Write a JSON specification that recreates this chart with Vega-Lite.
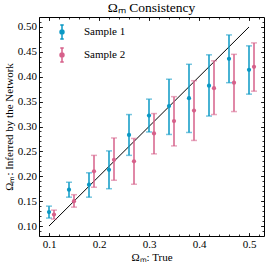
{
  "$schema": "https://vega.github.io/schema/vega-lite/v6.json",
  "width": 225,
  "height": 219,
  "padding": {"left": 3, "top": 1, "right": 3, "bottom": 3},
  "title": {"text": "Ωₘ Consistency", "font": "'Liberation Serif', serif", "fontSize": 13.5, "fontWeight": "normal", "color": "black", "offset": 2},
  "config": {
    "view": {"stroke": "black", "strokeWidth": 1},
    "font": "'Liberation Serif', serif",
    "axis": {"domain": false, "grid": false, "tickColor": "black", "labelColor": "black", "titleColor": "black", "labelFont": "'Liberation Serif', serif", "titleFont": "'Liberation Serif', serif", "labelFontSize": 11, "titleFontSize": 11, "titleFontWeight": "normal", "tickWidth": 0.8}
  },
  "datasets": {
    "diag": [{"x": 0.1, "y": 0.1}, {"x": 0.5, "y": 0.5}],
    "pts": [
      {"s": "Sample 1", "x": 0.10, "y": 0.128, "lo": 0.116, "hi": 0.140},
      {"s": "Sample 1", "x": 0.14, "y": 0.173, "lo": 0.158, "hi": 0.188},
      {"s": "Sample 1", "x": 0.18, "y": 0.183, "lo": 0.158, "hi": 0.207},
      {"s": "Sample 1", "x": 0.22, "y": 0.213, "lo": 0.175, "hi": 0.251},
      {"s": "Sample 1", "x": 0.26, "y": 0.283, "lo": 0.242, "hi": 0.324},
      {"s": "Sample 1", "x": 0.30, "y": 0.322, "lo": 0.289, "hi": 0.355},
      {"s": "Sample 1", "x": 0.34, "y": 0.341, "lo": 0.284, "hi": 0.395},
      {"s": "Sample 1", "x": 0.38, "y": 0.357, "lo": 0.288, "hi": 0.425},
      {"s": "Sample 1", "x": 0.42, "y": 0.382, "lo": 0.321, "hi": 0.444},
      {"s": "Sample 1", "x": 0.46, "y": 0.436, "lo": 0.388, "hi": 0.484},
      {"s": "Sample 1", "x": 0.50, "y": 0.414, "lo": 0.365, "hi": 0.462},
      {"s": "Sample 2", "x": 0.11, "y": 0.123, "lo": 0.114, "hi": 0.132},
      {"s": "Sample 2", "x": 0.15, "y": 0.150, "lo": 0.138, "hi": 0.163},
      {"s": "Sample 2", "x": 0.19, "y": 0.210, "lo": 0.178, "hi": 0.242},
      {"s": "Sample 2", "x": 0.23, "y": 0.233, "lo": 0.192, "hi": 0.277},
      {"s": "Sample 2", "x": 0.27, "y": 0.230, "lo": 0.184, "hi": 0.276},
      {"s": "Sample 2", "x": 0.31, "y": 0.286, "lo": 0.245, "hi": 0.326},
      {"s": "Sample 2", "x": 0.35, "y": 0.311, "lo": 0.261, "hi": 0.360},
      {"s": "Sample 2", "x": 0.39, "y": 0.332, "lo": 0.272, "hi": 0.392},
      {"s": "Sample 2", "x": 0.43, "y": 0.377, "lo": 0.324, "hi": 0.432},
      {"s": "Sample 2", "x": 0.47, "y": 0.388, "lo": 0.330, "hi": 0.445},
      {"s": "Sample 2", "x": 0.51, "y": 0.420, "lo": 0.371, "hi": 0.468}
    ]
  },
  "layer": [
    {
      "data": {"name": "diag"},
      "mark": {"type": "line", "color": "black", "strokeWidth": 1},
      "encoding": {
        "x": {"field": "x", "type": "quantitative", "scale": {"domain": [0.08, 0.53], "nice": false, "zero": false},
              "axis": {"orient": "bottom", "values": [0.1, 0.2, 0.3, 0.4, 0.5], "format": ".1f", "tickSize": -3.5, "labelPadding": 6, "title": "Ωₘ: True", "titlePadding": 2}},
        "y": {"field": "y", "type": "quantitative", "scale": {"domain": [0.08, 0.52], "nice": false, "zero": false},
              "axis": {"orient": "left", "values": [0.1, 0.15, 0.2, 0.25, 0.3, 0.35, 0.4, 0.45, 0.5], "format": ".2f", "tickSize": -3.5, "labelPadding": 6, "title": "Ωₘ: Inferred by the Network", "titlePadding": 3}}
      }
    },
    {
      "data": {"name": "pts"},
      "mark": {"type": "rule", "strokeWidth": 1.5},
      "encoding": {
        "x": {"field": "x", "type": "quantitative", "axis": {"orient": "top", "values": [0.1, 0.2, 0.3, 0.4, 0.5], "labels": false, "tickSize": -3.5, "title": null}},
        "y": {"field": "lo", "type": "quantitative", "axis": {"orient": "right", "values": [0.1, 0.15, 0.2, 0.25, 0.3, 0.35, 0.4, 0.45, 0.5], "labels": false, "tickSize": -3.5, "title": null}},
        "y2": {"field": "hi"},
        "color": {"field": "s", "type": "nominal", "scale": {"domain": ["Sample 1", "Sample 2"], "range": ["#0A98C4", "#D6608A"]}}
      }
    },
    {
      "data": {"name": "pts"},
      "mark": {"type": "tick", "orient": "horizontal", "size": 6, "thickness": 1.5, "opacity": 0.55},
      "encoding": {
        "x": {"field": "x", "type": "quantitative", "axis": {"orient": "bottom", "values": [0.08, 0.1, 0.12, 0.14, 0.16, 0.18, 0.2, 0.22, 0.24, 0.26, 0.28, 0.3, 0.32, 0.34, 0.36, 0.38, 0.4, 0.42, 0.44, 0.46, 0.48, 0.5, 0.52], "labels": false, "tickSize": -2, "title": null}},
        "y": {"field": "hi", "type": "quantitative", "axis": {"orient": "left", "values": [0.09, 0.1, 0.11, 0.12, 0.13, 0.14, 0.15, 0.16, 0.17, 0.18, 0.19, 0.2, 0.21, 0.22, 0.23, 0.24, 0.25, 0.26, 0.27, 0.28, 0.29, 0.3, 0.31, 0.32, 0.33, 0.34, 0.35, 0.36, 0.37, 0.38, 0.39, 0.4, 0.41, 0.42, 0.43, 0.44, 0.45, 0.46, 0.47, 0.48, 0.49, 0.5, 0.51], "labels": false, "tickSize": -2, "title": null}},
        "color": {"field": "s", "type": "nominal"}
      }
    },
    {
      "data": {"name": "pts"},
      "mark": {"type": "tick", "orient": "horizontal", "size": 6, "thickness": 1.5, "opacity": 0.55},
      "encoding": {
        "x": {"field": "x", "type": "quantitative", "axis": {"orient": "top", "values": [0.08, 0.1, 0.12, 0.14, 0.16, 0.18, 0.2, 0.22, 0.24, 0.26, 0.28, 0.3, 0.32, 0.34, 0.36, 0.38, 0.4, 0.42, 0.44, 0.46, 0.48, 0.5, 0.52], "labels": false, "tickSize": -2, "title": null}},
        "y": {"field": "lo", "type": "quantitative", "axis": {"orient": "right", "values": [0.09, 0.1, 0.11, 0.12, 0.13, 0.14, 0.15, 0.16, 0.17, 0.18, 0.19, 0.2, 0.21, 0.22, 0.23, 0.24, 0.25, 0.26, 0.27, 0.28, 0.29, 0.3, 0.31, 0.32, 0.33, 0.34, 0.35, 0.36, 0.37, 0.38, 0.39, 0.4, 0.41, 0.42, 0.43, 0.44, 0.45, 0.46, 0.47, 0.48, 0.49, 0.5, 0.51], "labels": false, "tickSize": -2, "title": null}},
        "color": {"field": "s", "type": "nominal"}
      }
    },
    {
      "data": {"name": "pts"},
      "mark": {"type": "circle", "size": 18, "opacity": 1},
      "encoding": {
        "x": {"field": "x", "type": "quantitative", "axis": null},
        "y": {"field": "y", "type": "quantitative", "axis": null},
        "color": {"field": "s", "type": "nominal",
                  "legend": {"title": null, "orient": "none", "legendX": 15, "legendY": 7, "rowPadding": 3,
                             "symbolType": "M-0.25,-1H0.25M0,-1V1M-0.25,1H0.25M0.28,0A0.28,0.28 0 1 1 -0.28,0A0.28,0.28 0 1 1 0.28,0Z",
                             "symbolSize": 196, "symbolStrokeWidth": 1.5, "symbolOpacity": 1, "labelFont": "'Liberation Serif', serif", "labelFontSize": 11, "labelColor": "black", "labelOffset": 14,
                             "encode": {"symbols": {"update": {"fill": {"scale": "color", "field": "value"}, "stroke": {"scale": "color", "field": "value"}, "opacity": {"value": 1}, "fillOpacity": {"value": 1}, "strokeOpacity": {"value": 1}}}}}}
      }
    }
  ],
  "resolve": {"axis": {"x": "independent", "y": "independent"}}
}
